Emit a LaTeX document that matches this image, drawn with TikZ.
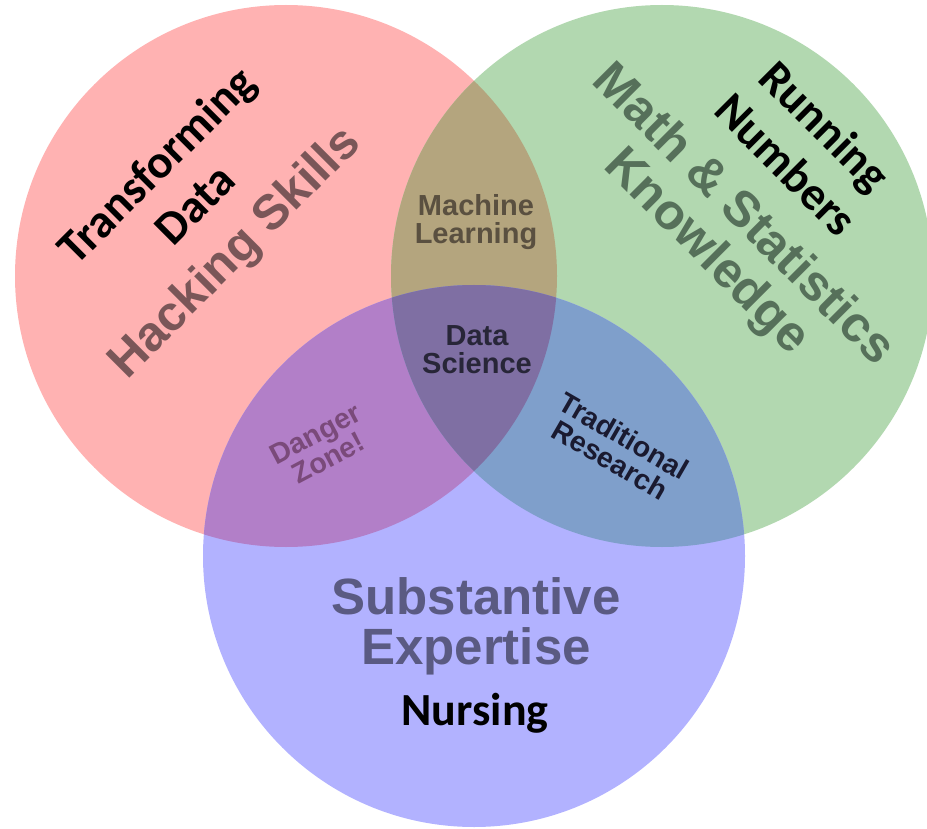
\documentclass[tikz,border=0pt]{standalone}
\usepackage{fontspec}
\setmainfont{Liberation Sans}
\newfontfamily\calibri{Carlito}
\definecolor{cred}{RGB}{255,178,178}
\definecolor{cgreen}{RGB}{178,216,176}
\definecolor{cblue}{RGB}{178,178,255}
\definecolor{crg}{RGB}{180,165,126}
\definecolor{crb}{RGB}{178,127,200}
\definecolor{cgb}{RGB}{127,159,203}
\definecolor{crgb}{RGB}{127,111,163}
\definecolor{thack}{RGB}{122,86,88}
\definecolor{tmath}{RGB}{86,112,90}
\definecolor{tsubst}{RGB}{90,90,130}
\definecolor{tml}{RGB}{90,80,64}
\definecolor{tds}{RGB}{40,38,56}
\definecolor{tdanger}{RGB}{122,74,122}
\definecolor{ttrad}{RGB}{26,26,48}
\begin{document}
\begin{tikzpicture}[x=1pt,y=-1pt,
  big/.style={align=center,inner sep=0pt,font=\bfseries\fontsize{50}{52}\selectfont},
  small/.style={align=center,inner sep=0pt,font=\bfseries\fontsize{29}{28}\selectfont},
  tiny/.style={align=center,inner sep=0pt,font=\bfseries\fontsize{28.5}{27.5}\selectfont},
  added/.style={align=center,inner sep=0pt,text=black,font=\calibri\bfseries\fontsize{47}{55}\selectfont}]
\useasboundingbox (0,0) rectangle (927,829);
\coordinate (cR) at (286,276);
\coordinate (cG) at (662,276);
\coordinate (cB) at (474,556);
\def\rad{271pt}
% base circles
\fill[cred] (cR) circle[radius=\rad];
\fill[cgreen] (cG) circle[radius=\rad];
\fill[cblue] (cB) circle[radius=\rad];
% overlaps
\begin{scope}
  \clip (cR) circle[radius=\rad];
  \fill[crg] (cG) circle[radius=\rad];
  \fill[crb] (cB) circle[radius=\rad];
\end{scope}
\begin{scope}
  \clip (cG) circle[radius=\rad];
  \fill[cgb] (cB) circle[radius=\rad];
\end{scope}
\begin{scope}
  \clip (cR) circle[radius=\rad];
  \clip (cG) circle[radius=\rad];
  \fill[crgb] (cB) circle[radius=\rad];
\end{scope}
% original labels
\node[big,text=thack,rotate=45,font=\bfseries\fontsize{49}{52}\selectfont] (hack) at (236,254) {Hacking Skills};
\node[big,text=tmath,rotate=-45] (math) at (724,234) {Math \& Statistics\\Knowledge};
\node[big,text=tsubst,font=\bfseries\fontsize{51}{50}\selectfont] (subst) at (476,626) {Substantive\\Expertise};
\node[small,text=tml] (ml) at (476,222) {Machine\\Learning};
\node[small,text=tds] (ds) at (477,350) {Data\\Science};
\node[tiny,text=tdanger,rotate=28] (danger) at (322,446) {Danger\\Zone!};
\node[tiny,text=ttrad,rotate=-30] (trad) at (617,448) {Traditional\\Research};
% added labels
\node[added,rotate=45] (transf) at (175,184) {Transforming\\Data};
\node[added,rotate=-45] (running) at (806,145) {Running\\Numbers};
\node[added,font=\calibri\bfseries\fontsize{46}{55}\selectfont] (nursing) at (475,713) {Nursing};
\end{tikzpicture}
\end{document}
